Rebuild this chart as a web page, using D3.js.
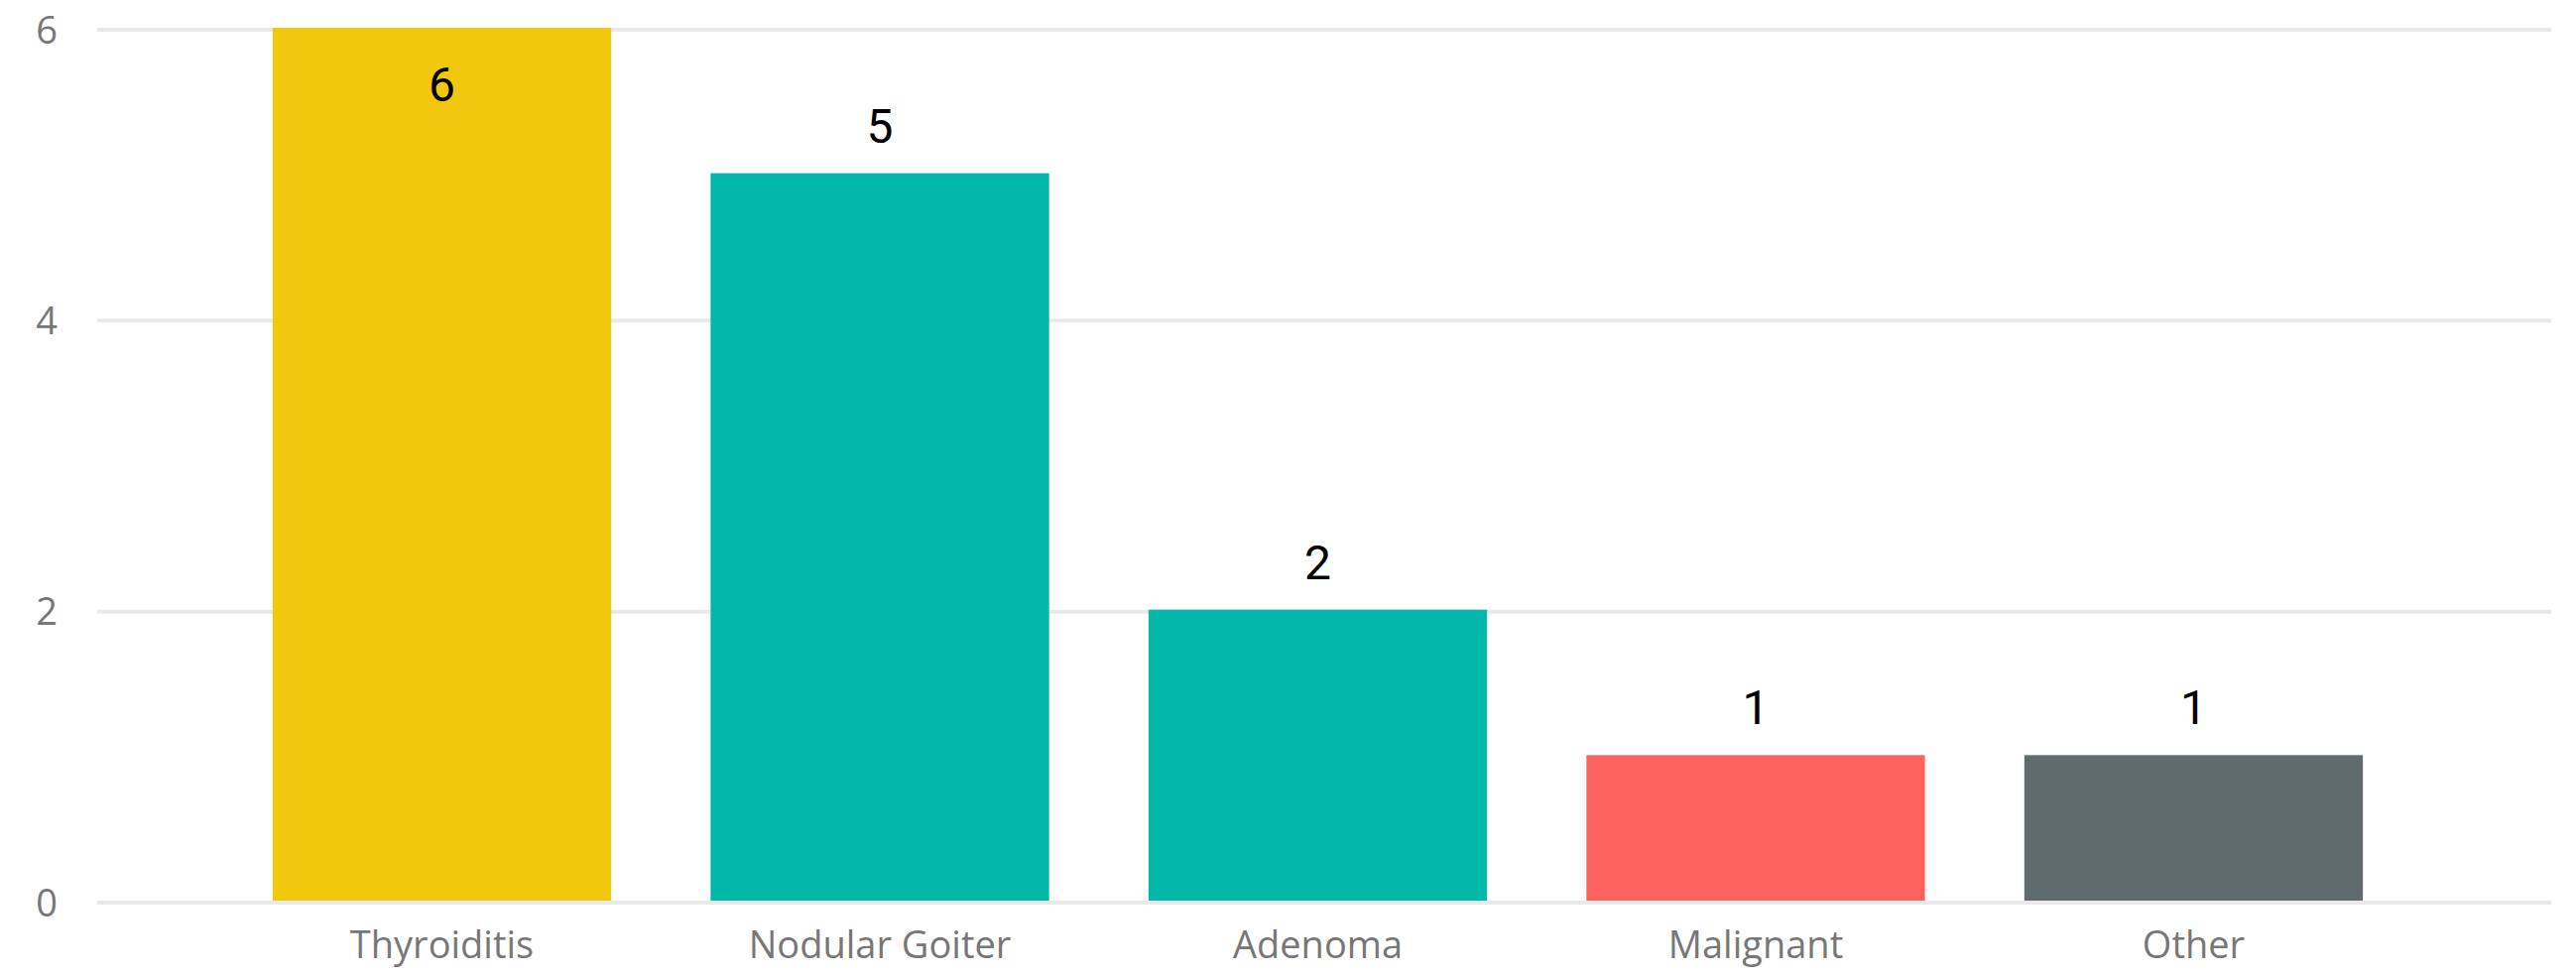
<!DOCTYPE html>
<html>
<head>
<meta charset="utf-8">
<script src="https://cdn.jsdelivr.net/npm/d3@7"></script>
<style>
  html, body { margin: 0; padding: 0; background: #fff; }
  svg { display: block; }
  .tick-label { font-family: "Segoe UI", "Open Sans", sans-serif; fill: #777; }
  .data-label { font-family: "DIN", "Roboto", sans-serif; fill: #000; }
</style>
</head>
<body>
<div id="chart-area"></div>
<script>
// chart values
const categories = ["Thyroiditis", "Nodular Goiter", "Adenoma", "Malignant", "Other"];
const counts = [6, 5, 2, 1, 1];
const barColors = ["#F2C80F", "#01B8AA", "#01B8AA", "#FD625E", "#5F6B6D"];
const yTicks = [0, 2, 4, 6];

const WIDTH = 2597, HEIGHT = 983;
const PLOT = {LEFT: 98, RIGHT: 2572, TOP: 28, BOTTOM: 908};

const svg = d3.select("#chart-area").append("svg")
    .attr("width", WIDTH)
    .attr("height", HEIGHT);

// scales
const xScale = d3.scaleBand()
    .domain(categories)
    .range([225, 2432])
    .paddingInner(0.227)
    .paddingOuter(0.113);

const yScale = d3.scaleLinear()
    .domain([0, 6])
    .range([PLOT.BOTTOM, PLOT.TOP]);

// gridlines (drawn just under the value, like the original)
const grid = svg.append("g").attr("class", "grid");
grid.selectAll("line")
    .data(yTicks)
    .enter().append("line")
    .attr("x1", PLOT.LEFT)
    .attr("x2", PLOT.RIGHT)
    .attr("y1", d => yScale(d) + 2)
    .attr("y2", d => yScale(d) + 2)
    .attr("stroke", "#E9E9E9")
    .attr("stroke-width", 4);

// y axis labels
const yAxisCall = d3.axisLeft(yScale)
    .tickValues(yTicks)
    .tickFormat(d3.format("d"))
    .tickSize(0)
    .tickPadding(0);
const yAxis = svg.append("g")
    .attr("transform", "translate(58, 2)")
    .call(yAxisCall);
yAxis.select(".domain").remove();
yAxis.selectAll("text")
    .attr("class", "tick-label")
    .attr("font-size", 38)
    .attr("dy", "0.35em");

// x axis labels
const xAxisCall = d3.axisBottom(xScale).tickSize(0).tickPadding(0);
const xAxis = svg.append("g")
    .attr("transform", `translate(0, ${PLOT.BOTTOM})`)
    .call(xAxisCall);
xAxis.select(".domain").remove();
xAxis.selectAll("text")
    .attr("class", "tick-label")
    .attr("font-size", 38)
    .attr("y", 58)
    .attr("dy", 0);

// bars
const data = categories.map((c, i) => ({name: c, value: counts[i], color: barColors[i]}));

svg.append("g").attr("class", "bars")
    .selectAll("rect")
    .data(data)
    .enter().append("rect")
    .attr("x", d => xScale(d.name))
    .attr("y", d => yScale(d.value))
    .attr("width", xScale.bandwidth())
    .attr("height", d => yScale(0) - yScale(d.value))
    .attr("fill", d => d.color);

// data labels: above the bar, or inside when there is no room
svg.append("g").attr("class", "labels")
    .selectAll("text")
    .data(data)
    .enter().append("text")
    .attr("class", "data-label")
    .attr("font-size", 48)
    .attr("text-anchor", "middle")
    .attr("x", d => xScale(d.name) + xScale.bandwidth() / 2)
    .attr("y", d => {
        const top = yScale(d.value);
        return (top - 31 - 37 < 0) ? top + 74 : top - 31;
    })
    .text(d => d.value);
</script>
</body>
</html>
